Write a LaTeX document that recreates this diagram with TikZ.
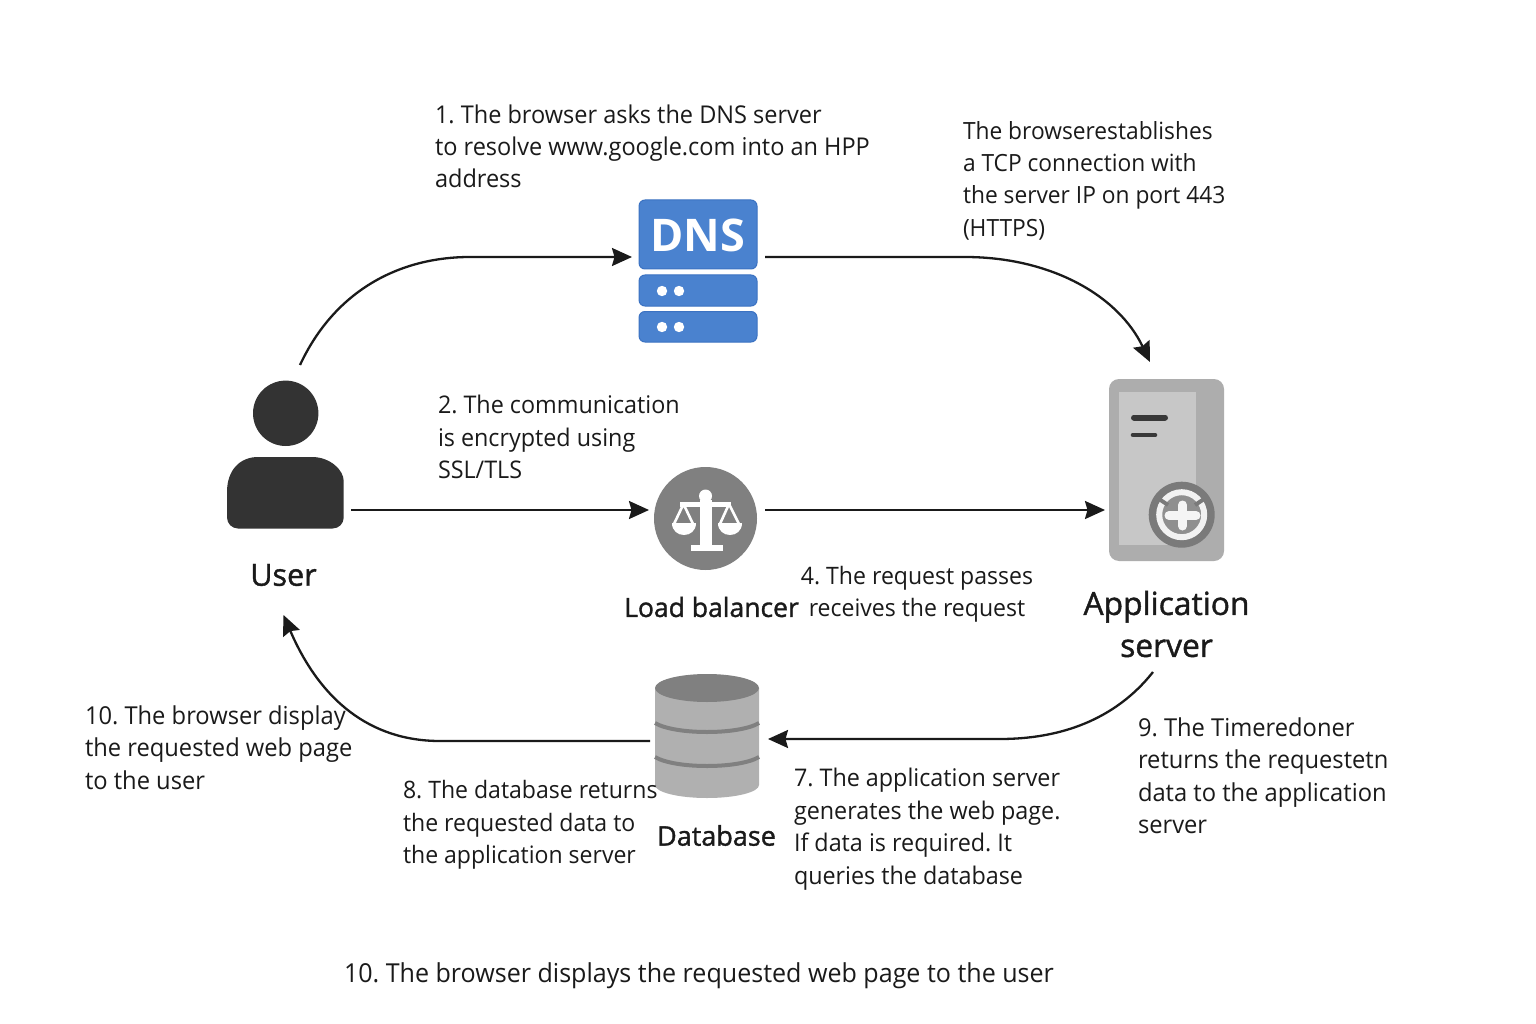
\documentclass[tikz,border=0pt]{standalone}
\usepackage{fontspec}
\setmainfont[FakeStretch=0.96]{Open Sans}
\newfontfamily\medfont[FakeBold=1.3]{Open Sans}
\newfontfamily\boldfont{Open Sans Bold}
\usetikzlibrary{arrows.meta,calc}
\definecolor{ink}{HTML}{1A1A1A}
\definecolor{dnsblue}{HTML}{4A82CF}
\definecolor{dnsedge}{HTML}{3B72C2}
\definecolor{usergray}{HTML}{333333}
\definecolor{midgray}{HTML}{808080}
\newcommand{\fs}[1]{\fontsize{#1}{32.4}\selectfont\frenchspacing}
\tikzset{
  x=1pt,y=-1pt,
  txt/.style={anchor=north west,inner sep=0pt,outer sep=0pt,align=left,text=ink},
  iconbox/.style={inner sep=0pt,outer sep=0pt,draw=none},
  lab/.style={inner sep=0pt,outer sep=0pt,align=center,text=ink},
  conn/.style={draw=ink,line width=2.3pt,-{Stealth[length=20pt,width=18pt,inset=2.5pt]}},
  dnsshape/.style={fill=dnsblue,draw=dnsedge,line width=1pt,rounded corners=6pt},
}
\begin{document}
\begin{tikzpicture}
\useasboundingbox (0,0) rectangle (1536,1024);
\fill[white] (0,0) rectangle (1536,1024);

% anchors
\node[iconbox,minimum width=117pt,minimum height=148pt] (user) at (285.5,455) {};
\node[iconbox,minimum width=120pt,minimum height=143pt] (dns) at (698,271.5) {};
\node[iconbox,minimum width=103pt,minimum height=103pt] (lb) at (705.5,518.5) {};
\node[iconbox,minimum width=115pt,minimum height=182pt] (app) at (1166.5,470) {};
\node[iconbox,minimum width=104pt,minimum height=125pt] (db) at (707,736) {};

% user
\fill[usergray] (285.7,413.3) circle (32.7);
\fill[usergray,rounded corners=11pt] (227,528.5) -- (343.7,528.5) -- (343.7,492) [rounded corners=0pt] .. controls (343.7,470) and (330,457) .. (312,457) -- (258,457) .. controls (240,457) and (227,470) .. (227,492) [rounded corners=11pt] -- cycle;

% dns
\draw[dnsshape] (639,200) rectangle (757,269);
\draw[dnsshape] (639,275) rectangle (757,306);
\draw[dnsshape] (639,311.5) rectangle (757,342);
\foreach \yy in {291,327}{
  \fill[white] (662,\yy) circle (5.2);
  \fill[white] (679,\yy) circle (5.2);
}
\node[inner sep=0pt,text=white,font=\boldfont\fontsize{45}{46}\selectfont] (dnstext) at (698,235) {DNS};

% load balancer
\fill[midgray] (705.5,518.5) circle (51.5);
\fill[white] (691,545) rectangle (723,551);
\fill[white] (699.5,500) rectangle (711.5,546);
\fill[white] (705.5,496) circle (6.5);
\fill[white] (680,502) rectangle (731,506.5);
\foreach \cx/\fx in {683.5/672,729/718}{
  \draw[white,line width=2.6pt,line join=round] (\cx,504) -- (\fx+1.5,525) -- (\fx+21.5,525) -- cycle;
  \fill[white] (\fx,523) -- (\fx+24,523) .. controls (\fx+24,531) and (\fx+18,535) .. (\fx+12,535) .. controls (\fx+6,535) and (\fx,531) .. (\fx,523) -- cycle;
}

% app server
\fill[fill=black!32,rounded corners=10pt] (1109,379) rectangle (1224,561);
\fill[fill=black!22] (1119,392) rectangle (1196,545);
\draw[black!78,line width=6pt,line cap=round] (1134,417.5) -- (1165,417.5);
\draw[black!78,line width=4.6pt,line cap=round] (1133,435) -- (1155,435);
\fill[black!52] (1181.7,514.7) circle (33);
\fill[black!44] (1181.7,514.7) circle (22);
\draw[black!5,line width=6pt] (1181.7,514.7) circle (22.5);
\draw[black!52,line width=4pt] (1159,499) -- (1168,505);
\draw[black!52,line width=4pt] (1204,499) -- (1195,505);
\draw[black!4,line width=9pt,line cap=round] (1182.5,505) -- (1182.5,526);
\draw[black!4,line width=9pt,line cap=round] (1169,515.5) -- (1196,515.5);

% database
\fill[black!31] (655,688) -- (655,785) arc[start angle=180,end angle=360,x radius=52,y radius=-13] -- (759,688) -- cycle;
\fill[black!50] (707,688) ellipse [x radius=52,y radius=14];
\draw[black!50,line width=4pt] (655,723) .. controls (675,735) and (739,735) .. (759,723);
\draw[black!50,line width=4pt] (655,757) .. controls (675,769) and (739,769) .. (759,757);

% connectors
\draw[conn] ([xshift=14.5pt,yshift=16pt]user.north) .. controls (335,290) and (400,257) .. (470,257) -- ([xshift=-6pt,yshift=14.5pt]dns.west);
\draw[conn] ([xshift=7pt,yshift=14.5pt]dns.east) -- (965,257) .. controls (1050,257) and (1118,295) .. ([xshift=-16.5pt,yshift=17pt]app.north);
\draw[conn] ([xshift=7pt,yshift=-55pt]user.east) -- ([xshift=-5pt,yshift=8.5pt]lb.west);
\draw[conn] ([xshift=8pt,yshift=8.5pt]lb.east) -- ([xshift=-4pt,yshift=-40pt]app.west);
\draw[conn] ([xshift=-13.5pt,yshift=-111pt]app.south) .. controls (1115,720) and (1060,739) .. (1000,739) -- ([xshift=9pt,yshift=-3pt]db.east);
\draw[conn] ([xshift=-5pt,yshift=-5pt]db.west) -- (440,741) .. controls (370,741) and (320,700) .. ([xshift=-2pt,yshift=-86pt]user.south);

% labels
\node[lab,font=\medfont\fontsize{30.5}{36}\selectfont] (userlab) at (283.5,575) {User};
\node[lab,font=\medfont\fontsize{26.5}{32}\selectfont] (lblab) at (711.5,607) {Load balancer};
\node[lab,font=\medfont\fontsize{31.8}{42}\selectfont] (applab) at (1166.5,624) {Application\\server};
\node[lab,font=\medfont\fontsize{27}{32}\selectfont] (dblab) at (716.5,835.5) {Database};

% text
\node[txt,font=\fs{24.5}] (t1) at (435,104.5) {1. The browser asks the DNS server\\to resolve www.google.com into an HPP\\address};
\node[txt,font=\fs{23.7}] (t3) at (963,121) {The browserestablishes\\a TCP connection with\\the server IP on port 443\\(HTTPS)};
\node[txt,font=\fs{24.3}] (t2) at (438,395.5) {2. The communication\\is encrypted using\\SSL/TLS};
\node[txt,align=center,anchor=north,font=\fs{24}] (t4) at (917,566) {4. The request passes\\receives the request};
\node[txt,font=\fs{24.7}] (t10a) at (85,705.5) {10. The browser display\\the requested web page\\to the user};
\node[txt,font=\fs{24}] (t8) at (403,780.5) {8. The database returns\\the requested data to\\the application server};
\node[txt,font=\fs{24.3}] (t7) at (794,768.5) {7. The application server\\generates the web page.\\If data is required. It\\queries the database};
\node[txt,font=\fs{24.7}] (t9) at (1138,717.5) {9. The Timeredoner\\returns the requestetn\\data to the application\\server};
\node[txt,font=\fs{26.1}] (t10b) at (344,963) {10. The browser displays the requested web page to the user};
\end{tikzpicture}
\end{document}
